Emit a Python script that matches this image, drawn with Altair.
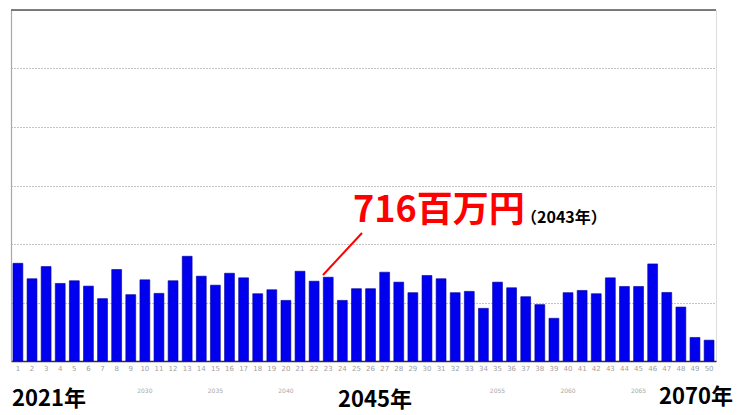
import altair as alt
import pandas as pd

years_idx = list(range(1, 51))
values = [835, 703, 807, 663, 686, 640, 533, 782, 567, 694,
          578, 686, 895, 725, 648, 750, 711, 575, 609, 518,
          767, 682, 716, 518, 618, 618, 759, 674, 584, 731,
          703, 584, 595, 450, 674, 626, 550, 482, 365, 584,
          603, 575, 711, 637, 637, 830, 586, 461, 201, 178]

group_pos = ["10", "15", "20", "35", "40", "45"]
group_lbl = ["2030", "2035", "2040", "2055", "2060", "2065"]

big_labels = ["2021年", "2045年", "2070年"]

df = pd.DataFrame({"n": [str(i) for i in years_idx], "v": values})
order = [str(i) for i in years_idx]

W, H = 705, 351
JP = "Noto Sans CJK JP"

xscale = alt.Scale(domain=order, paddingInner=0.3, paddingOuter=0.14)
yscale = alt.Scale(domain=[0, 3000], nice=False)

bars = alt.Chart(df).mark_bar(color="#0000ee", stroke="#00009a", strokeWidth=0.6).encode(
    x=alt.X("n:O", scale=xscale, sort=order, title=None,
            axis=alt.Axis(labelAngle=0, labelFontSize=7, labelColor="#a0a0a0",
                          ticks=False, labelPadding=3, domainColor="#333333",
                          domainWidth=1.5, labelFont="DejaVu Sans")),
    y=alt.Y("v:Q", scale=yscale, title=None,
            axis=alt.Axis(values=[0, 500, 1000, 1500, 2000, 2500], labels=False, ticks=False,
                          grid=True, gridColor="#8a8a8a", gridDash=[1, 2], gridWidth=1.2,
                          domainColor="#a8a8a8", domainWidth=1.2)),
)

top_rule = alt.Chart(df).mark_rule(color="#555555", strokeWidth=1.5).encode(
    y=alt.datum(3000)
).transform_filter(alt.datum.n == "1")

grp_df = pd.DataFrame({"n": group_pos, "t": group_lbl})
grp = alt.Chart(grp_df).mark_text(fontSize=6, color="#a8a8a8", font="DejaVu Sans").encode(
    x=alt.X("n:O", scale=xscale, sort=order),
    y=alt.value(381),
    text="t:N",
)

big_df = pd.DataFrame({"t": big_labels})
big_left = alt.Chart(big_df.iloc[[0]]).mark_text(
    fontSize=22, fontWeight="bold", font=JP, color="#000000", align="left", baseline="middle"
).encode(x=alt.value(1), y=alt.value(389), text="t:N")
big_mid = alt.Chart(big_df.iloc[[1]]).mark_text(
    fontSize=22, fontWeight="bold", font=JP, color="#000000", align="center", baseline="middle"
).encode(x=alt.value(364), y=alt.value(390), text="t:N")
big_right = alt.Chart(big_df.iloc[[2]]).mark_text(
    fontSize=22, fontWeight="bold", font=JP, color="#000000", align="center", baseline="middle"
).encode(x=alt.value(685), y=alt.value(387), text="t:N")

ann_df = pd.DataFrame({"t": ["716百万円"], "s": ["（2043年）"]})
ann_main = alt.Chart(ann_df).mark_text(
    fontSize=36, fontWeight="bold", font=JP, color="#ff0000", align="left", baseline="middle"
).encode(x=alt.value(342), y=alt.value(201), text="t:N")
ann_sub = alt.Chart(ann_df).mark_text(
    fontSize=16, fontWeight="bold", font=JP, color="#000000", align="left", baseline="middle"
).encode(x=alt.value(510), y=alt.value(208), text="s:N")
ann_line = alt.Chart(ann_df).mark_rule(color="#ff0000", strokeWidth=2).encode(
    x=alt.value(351), y=alt.value(223), x2=alt.value(312), y2=alt.value(265)
)

chart = alt.layer(bars, top_rule, grp, big_left, big_mid, big_right, ann_line, ann_main, ann_sub).properties(
    width=W, height=H,
    autosize=alt.AutoSizeParams(type="none"),
    padding={"left": 3, "top": 2, "right": 22, "bottom": 52},
).configure_view(stroke="#c8c8c8", strokeWidth=1.2).configure(background="white")

chart.save("out.html", embed_options={"renderer": "svg", "actions": False})
